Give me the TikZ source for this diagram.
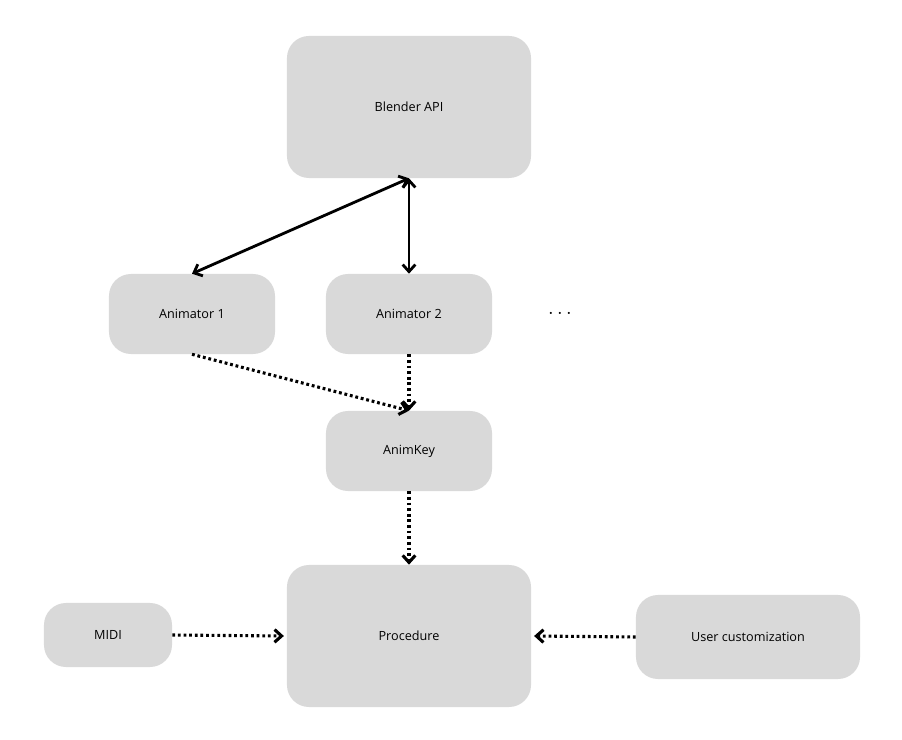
\documentclass[tikz,border=0pt]{standalone}
\usepackage{fontspec}
\setmainfont{Open Sans}
\usetikzlibrary{arrows.meta}
\definecolor{boxgray}{HTML}{D9D9D9}
\tikzset{
  box/.style={fill=boxgray, rounded corners=0.55cm, font=\small, inner sep=0pt},
  big/.style={box, minimum width=6.1cm, minimum height=3.55cm},
  mid/.style={box, minimum width=4.15cm, minimum height=2.0cm},
  link/.style={line width=2pt, {Straight Barb[length=5pt,width=9pt]}-{Straight Barb[length=5pt,width=9pt]}},
  feed/.style={line width=2.2pt, dash pattern=on 2pt off 2pt, -{Straight Barb[length=5pt,width=9pt]}}
}
\begin{document}
\begin{tikzpicture}[x=0.025cm,y=-0.025cm]
\useasboundingbox (0,0) rectangle (902,740);
                \node[big] (api) at (409,107) {Blender API};
                \node[mid] (an1) at (192,314) {Animator 1};
                \node[mid] (an2) at (409,314) {Animator 2};
                \node[font=\Large\bfseries] (dots) at (560,314) {$\cdots$};
                \node[mid] (key) at (409,451) {AnimKey};
                \node[big] (proc) at (409,636) {Procedure};
                \node[box, minimum width=3.2cm, minimum height=1.6cm] (midi) at (108,635) {MIDI};
                \node[box, minimum width=5.6cm, minimum height=2.1cm] (user) at (748,637) {User customization};

                \draw[link] (api.south) -- (an1.north);
                \draw[link] (api.south) -- (an2.north);
                \draw[feed] (an1.south) -- (key.north);
                \draw[feed] (an2.south) -- (key.north);
                \draw[feed] (key.south) -- (proc.north);
                \draw[feed] (midi.east) -- ([xshift=-2pt]proc.west);
                \draw[feed] (user.west) -- ([xshift=2pt]proc.east);
            \end{tikzpicture}
\end{document}
